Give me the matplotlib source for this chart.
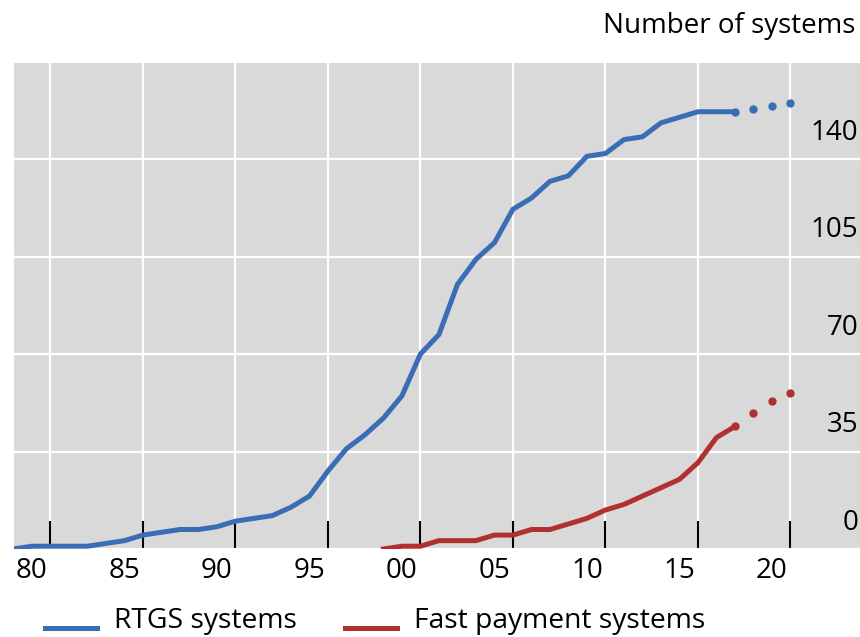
import numpy as np
import matplotlib
matplotlib.use("Agg")
import matplotlib.pyplot as plt
from matplotlib.legend_handler import HandlerLine2D

plt.rcParams['font.family'] = ['Open Sans', 'DejaVu Sans']

# data
years = list(range(1979, 2019))
rtgs = [0, 1, 1, 1, 1, 2, 3, 5, 6, 7, 7, 8, 10, 11, 12, 15, 19, 28, 36, 41,
        47, 55, 70, 77, 95, 104, 110, 122, 126, 132, 134, 141, 142, 147, 148,
        153, 155, 157, 157, 157]
fast_years = list(range(1999, 2019))
fast = [0, 1, 1, 3, 3, 3, 5, 5, 7, 7, 9, 11, 14, 16, 19, 22, 25, 31, 40, 44]

# projections (dotted part)
proj_years = [2018, 2019, 2020, 2021]
rtgs_proj = [157, 158, 159, 160]
fast_proj = [44, 49, 53, 56]

blue = "#3a6db4"
red = "#b0312f"

fig = plt.figure(figsize=(8.6, 6.37), dpi=100)
ax = fig.add_axes([14 / 860, 88 / 637, 846 / 860, 486 / 637])
ax.set_facecolor("#d9d9d9")
for s in ax.spines.values():
    s.set_visible(False)

ax.plot(years, rtgs, color=blue, lw=3.6, label="RTGS systems", solid_joinstyle="round")
ax.plot(fast_years, fast, color=red, lw=3.6, label="Fast payment systems", solid_joinstyle="round")
ax.plot(proj_years, rtgs_proj, ls="none", marker="o", ms=5, color=blue)
ax.plot(proj_years, fast_proj, ls="none", marker="o", ms=5, color=red)

ax.set_xlim(1979.03, 2024.76)
ax.set_ylim(0, 174.5)

# gridlines at year boundaries, labels at the years
ax.set_xticks(range(1981, 2022, 5))
ax.set_xticklabels([])
ax.set_xticks(range(1980, 2021, 5), minor=True)
ax.set_xticklabels(["80", "85", "90", "95", "00", "05", "10", "15", "20"], minor=True, fontsize=20)
ax.tick_params(axis="x", which="major", direction="in", length=20, width=1.5, color="black")
ax.tick_params(axis="x", which="minor", length=0, pad=6)

ax.set_yticks([0, 35, 70, 105, 140])
ax.tick_params(axis="y", length=0, labelleft=False)
ax.grid(True, which="major", color="white", lw=1.6)
ax.set_axisbelow(True)

for v in [0, 35, 70, 105, 140]:
    ax.annotate(str(v), xy=(0.998, v), xycoords=ax.get_yaxis_transform(),
                xytext=(0, 14), textcoords="offset points",
                ha="right", va="baseline", fontsize=20)

fig.text(855 / 860, 1 - 12 / 637, "Number of systems", ha="right", va="top", fontsize=20)


class LowLine(HandlerLine2D):
    def create_artists(self, legend, orig_handle, xdescent, ydescent, width, height, fontsize, trans):
        arts = super().create_artists(legend, orig_handle, xdescent, ydescent, width, height, fontsize, trans)
        for a in arts:
            a.set_ydata(np.asarray(a.get_ydata()) - 0.5 * height)
        return arts


ax.legend(loc="lower left", bbox_to_anchor=(45 / 860, 2 / 637), bbox_transform=fig.transFigure,
          borderaxespad=0, borderpad=0,
          ncol=2, frameon=False, fontsize=20.3, handlelength=1.85, handletextpad=0.6,
          columnspacing=1.7, handler_map={matplotlib.lines.Line2D: LowLine()})

fig.savefig("out.png", dpi=100)
